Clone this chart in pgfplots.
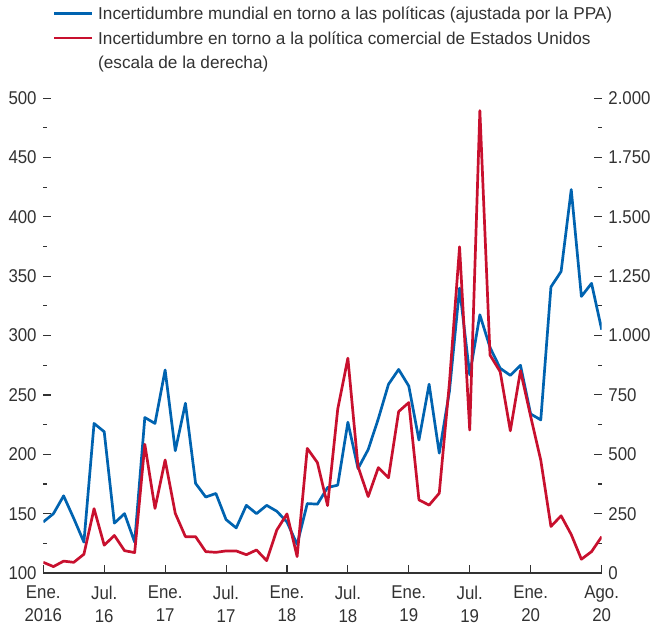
\documentclass[border=0pt]{standalone}
\usepackage{fontspec}
\setmainfont{Liberation Sans}
\newfontfamily\tickfont{Liberation Sans}[FakeStretch=0.91]
\usepackage{pgfplots}
\pgfplotsset{compat=1.18}
\definecolor{imfblue}{RGB}{0,99,176}
\definecolor{imfred}{RGB}{200,16,46}
\definecolor{txt}{RGB}{50,50,50}
\begin{document}
\begin{tikzpicture}
\useasboundingbox (-43.3bp,-55bp) rectangle (612.7bp,573bp);
\pgfplotsset{
  common/.style={
    scale only axis, width=558.4bp, height=474.8bp,
    xmin=0, xmax=55,
    tick align=inside,
    major tick length=7.5bp, minor tick length=3.5bp,
    tick style={draw=txt, line width=1.1bp},
    minor tick num=1,
    /pgf/number format/assume math mode=true,
    /pgf/number format/1000 sep={.},
    scaled y ticks=false,
    yticklabel style={font=\tickfont\fontsize{18.5bp}{23bp}\selectfont, text=txt, inner xsep=6.5bp, inner ysep=0pt},
    y axis line style={draw=none},
  }
}
\begin{axis}[common,
  ymin=100, ymax=500,
  ytick={100,150,...,500},
  axis x line*=bottom, axis y line*=left,
  x axis line style={draw=txt, line width=1.1bp},
  xtick={0,6,12,18,24,30,36,42,48,55},
  minor x tick num=0,
  xticklabels={{Ene.\\2016},{Jul.\\16},{Ene.\\17},{Jul.\\17},{Ene.\\18},{Jul.\\18},{Ene.\\19},{Jul.\\19},{Ene.\\20},{Ago.\\20}},
  xticklabel style={font=\tickfont\fontsize{18.5bp}{23bp}\selectfont, text=txt, align=center, anchor=north, inner sep=0pt, yshift=-12.5bp},
  x tick style={draw=txt, line width=1.1bp},
]
\addplot[imfblue, line width=2.7bp, line join=round] coordinates {
(0,143) (1,150) (2,165) (3,146) (4,126) (5,226) (6,219) (7,142) (8,150) (9,126)
(10,231) (11,226) (12,271) (13,203) (14,243) (15,175.5) (16,164) (17,167) (18,145) (19,138)
(20,157) (21,150) (22,157) (23,152) (24,143) (25,124) (26,158.5) (27,158) (28,172) (29,174)
(30,227) (31,188) (32,204) (33,230) (34,259) (35,271.5) (36,257.5) (37,212) (38,259) (39,201)
(40,253) (41,340) (42,267) (43,317.5) (44,290) (45,272.5) (46,266.5) (47,275) (48,234) (49,229)
(50,341) (51,354) (52,423) (53,333) (54,344) (55,305)
};
\end{axis}
\begin{axis}[common,
  ymin=0, ymax=2000,
  ytick={0,250,...,2000},
  axis x line=none, axis y line*=right,
  legend cell align=left,
  legend style={at={(0,1)}, anchor=north west, xshift=9.7bp, yshift=90.7bp,
    draw=none, fill=none, inner sep=0pt, outer sep=0pt, row sep=8.5bp,
    font=\fontsize{17.2bp}{20bp}\selectfont, text=txt,
    /tikz/every odd column/.append style={column sep=5bp},
    nodes={inner sep=0pt, text height=12.5bp, text depth=3.5bp}},
  legend image code/.code={\draw[#1, line width=2.2bp] (0bp,2bp) -- (38bp,2bp);},
]
\addlegendimage{imfblue}
\addlegendentry{Incertidumbre mundial en torno a las políticas (ajustada por la PPA)}
\addplot[imfred, line width=2.7bp, line join=round] coordinates {
(0,45) (1,27) (2,50) (3,45) (4,79) (5,271) (6,117) (7,158) (8,94) (9,86)
(10,542) (11,272) (12,476) (13,251) (14,153) (15,153) (16,90) (17,87) (18,93) (19,93)
(20,77) (21,97) (22,52) (23,181) (24,249) (25,69) (26,525) (27,465) (28,284) (29,690)
(30,905) (31,448) (32,322) (33,444) (34,401) (35,680) (36,718) (37,308) (38,286) (39,336)
(40,800) (41,1374) (42,602) (43,1948) (44,918) (45,848) (46,599) (47,852) (48,660) (49,475)
(50,196) (51,241) (52,162) (53,58) (54,90) (55,153)
};
\addlegendentry{Incertidumbre en torno a la política comercial de Estados Unidos}
\addlegendimage{empty legend}
\addlegendentry{(escala de la derecha)}
\end{axis}
\end{tikzpicture}
\end{document}
